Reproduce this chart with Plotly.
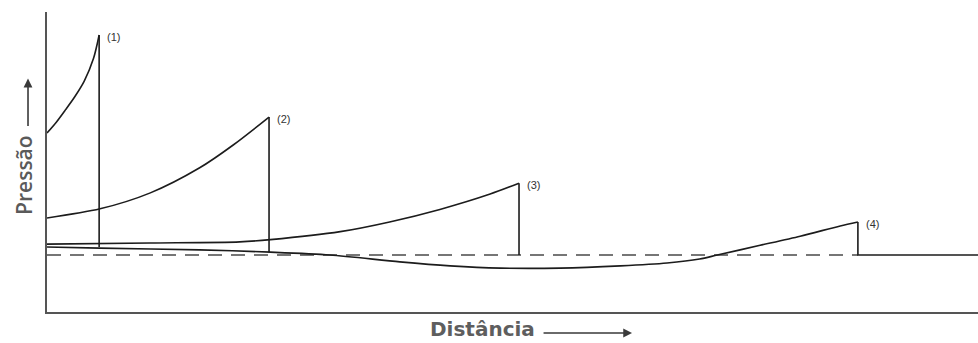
import plotly.graph_objects as go

# Pressure profiles of a blast wave at four successive instants.
# Distance and pressure are in arbitrary units; ambient pressure = 1.0.

labels = ["(1)", "(2)", "(3)", "(4)"]

# profile behind each shock front (distance, pressure)
dist_1 = [0.0, 0.10, 0.20, 0.30, 0.40, 0.50, 0.56]
pres_1 = [3.14, 3.33, 3.55, 3.78, 4.05, 4.45, 4.86]

dist_2 = [0.0, 0.57, 1.11, 1.64, 2.00, 2.385]
pres_2 = [1.65, 1.81, 2.09, 2.53, 2.93, 3.42]

dist_3 = [0.0, 1.11, 2.07, 2.40, 3.15, 3.68, 4.22, 4.76, 5.07]
pres_3 = [1.19, 1.21, 1.23, 1.27, 1.41, 1.58, 1.80, 2.07, 2.26]

dist_4 = [0.0, 0.57, 1.64, 2.40, 3.04, 3.79, 4.33, 4.87, 5.51, 6.16, 6.66,
          7.01, 7.20, 7.66, 8.09, 8.52, 8.71]
pres_4 = [1.14, 1.12, 1.09, 1.05, 1.00, 0.88, 0.81, 0.77, 0.77, 0.81, 0.86,
          0.93, 1.00, 1.17, 1.33, 1.51, 1.58]

# pressure just ahead of each shock front
front_base = [1.14, 1.05, 1.00, 1.00]
# undisturbed gas ahead of shock (4), up to the end of the axis
tail_end = 10.0
ambient = 1.0

profiles = [(dist_1, pres_1), (dist_2, pres_2), (dist_3, pres_3), (dist_4, pres_4)]

ink = "#1c1c1c"
fig = go.Figure()

# ambient pressure level (dashed), up to the last shock front
fig.add_trace(go.Scatter(
    x=[0.0, dist_4[-1]], y=[ambient, ambient], mode="lines",
    line=dict(color="#4a4a4a", width=1.6, dash="14px,9px"),
    hoverinfo="skip", showlegend=False))

for i, (d, p) in enumerate(profiles):
    # smooth rarefaction behind the front
    fig.add_trace(go.Scatter(
        x=d, y=p, mode="lines",
        line=dict(color=ink, width=1.6, shape="spline", smoothing=0.8),
        hoverinfo="skip", showlegend=False))
    # sharp pressure jump at the front
    fx = [d[-1], d[-1]]
    fy = [p[-1], front_base[i]]
    if i == len(profiles) - 1:
        fx.append(tail_end)
        fy.append(front_base[i])
    fig.add_trace(go.Scatter(
        x=fx, y=fy, mode="lines",
        line=dict(color=ink, width=1.6),
        hoverinfo="skip", showlegend=False))
    fig.add_annotation(
        x=d[-1], y=p[-1], text=labels[i], showarrow=False,
        xanchor="left", yanchor="middle", xshift=6, yshift=-2,
        font=dict(family="Liberation Sans", size=11, color="#333333"))

# axis titles with direction arrows
fig.add_annotation(xref="paper", yref="paper", x=-0.0247, y=0.457,
                   text="Pressão", textangle=-90, showarrow=False,
                   xanchor="center", yanchor="middle",
                   font=dict(family="Open Sans", size=21, color="#5a5a5a", weight=600))
fig.add_annotation(xref="paper", yref="paper", x=-0.0204, y=0.778,
                   text="", showarrow=True, ax=0, ay=49,
                   arrowhead=2, arrowsize=1.1, arrowwidth=1.6, arrowcolor="#3a3a3a")
fig.add_annotation(xref="paper", yref="paper", x=0.4678, y=-0.103,
                   text="Distância", showarrow=False,
                   xanchor="center", yanchor="bottom",
                   font=dict(family="DejaVu Sans", size=20, color="#5e5e5e", weight="bold"))
fig.add_annotation(xref="paper", yref="paper", x=0.6284, y=-0.07,
                   text="", showarrow=True, ax=-90, ay=0,
                   arrowhead=2, arrowsize=1.1, arrowwidth=1.6, arrowcolor="#3a3a3a")

fig.update_xaxes(range=[0, 10], showline=True, linecolor="#555555", linewidth=1.6,
                 showgrid=False, zeroline=False, showticklabels=False, ticks="")
fig.update_yaxes(range=[0, 300 / 57], showline=True, linecolor="#555555", linewidth=1.6,
                 showgrid=False, zeroline=False, showticklabels=False, ticks="")

fig.update_layout(
    width=978, height=343,
    margin=dict(l=47, r=0, t=12, b=31),
    paper_bgcolor="white", plot_bgcolor="white",
)

fig.write_html("out.html")
